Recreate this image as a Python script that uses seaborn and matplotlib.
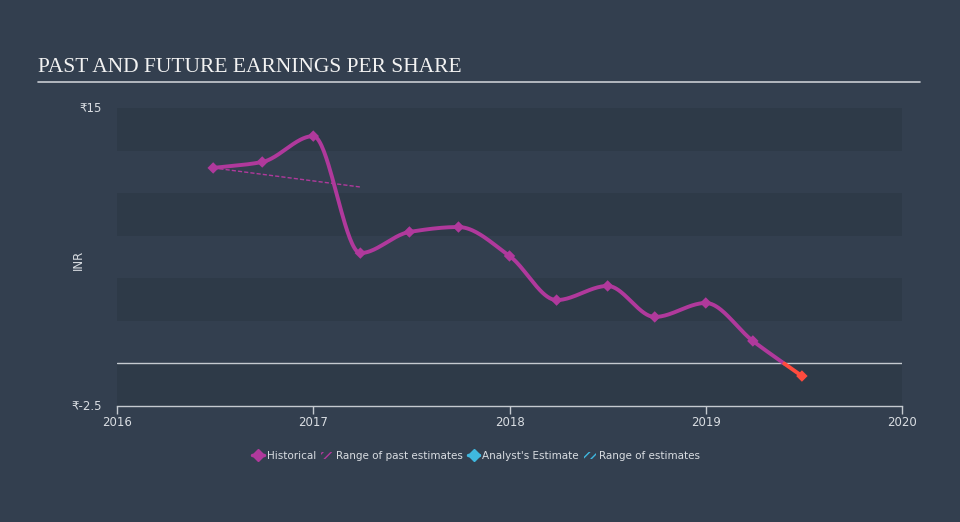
import numpy as np
import pandas as pd
import matplotlib
matplotlib.use("Agg")
import matplotlib.pyplot as plt
from matplotlib.lines import Line2D
from matplotlib.patches import Patch
import seaborn as sns

# ---- data ----
hist_x = [2016.49, 2016.74, 2017.0, 2017.24, 2017.49, 2017.74, 2018.0,
          2018.24, 2018.5, 2018.74, 2019.0, 2019.24, 2019.49]
hist_y = [11.48, 11.83, 13.35, 6.48, 7.72, 8.01, 6.31,
          3.72, 4.55, 2.73, 3.55, 1.32, -0.74]
past_est_x = [2016.49, 2017.24]
past_est_y = [11.48, 10.36]
x_ticks = [2016, 2017, 2018, 2019, 2020]
y_tick_vals = [-2.5, 15]
y_tick_labels = ["₹-2.5", "₹15"]

BG = "#333f4f"
DARK = "#2e3a48"
MAG = "#b0399c"
RED = "#ff4b3e"
BLUE = "#3fb8e0"
TXT = "#d9dde2"


def monotone(x, y, n=40):
    x = np.asarray(x, float); y = np.asarray(y, float)
    h = np.diff(x); d = np.diff(y) / h
    m = np.zeros_like(y)
    m[0], m[-1] = d[0], d[-1]
    for i in range(1, len(y) - 1):
        if d[i - 1] * d[i] <= 0:
            m[i] = 0
        else:
            w1 = 2 * h[i] + h[i - 1]; w2 = h[i] + 2 * h[i - 1]
            m[i] = (w1 + w2) / (w1 / d[i - 1] + w2 / d[i])
    xs, ys = [], []
    for i in range(len(h)):
        t = np.linspace(0, 1, n, endpoint=(i == len(h) - 1))
        h00 = 2 * t**3 - 3 * t**2 + 1; h10 = t**3 - 2 * t**2 + t
        h01 = -2 * t**3 + 3 * t**2; h11 = t**3 - t**2
        xs.append(x[i] + t * h[i])
        ys.append(h00 * y[i] + h10 * h[i] * m[i] + h01 * y[i + 1] + h11 * h[i] * m[i + 1])
    return np.concatenate(xs), np.concatenate(ys)


sns.set_theme(style="dark", rc={"axes.facecolor": BG, "figure.facecolor": BG})
plt.rcParams["font.family"] = ["DejaVu Sans"]

fig = plt.figure(figsize=(9.6, 5.22), dpi=100)
ax = fig.add_axes([117 / 960, 1 - 406 / 522, (902 - 117) / 960, (406 - 108) / 522])
ax.set_facecolor(BG)

# bands
for lo in [12.5, 7.5, 2.5, -2.5]:
    ax.axhspan(lo, lo + 2.5, color=DARK, lw=0, zorder=0)
ax.axhline(0, color="#c5cad0", lw=1.0, zorder=1)

sx, sy = monotone(hist_x, hist_y)
cross = np.where((sy[:-1] > 0) & (sy[1:] <= 0))[0]
ci = cross[-1] + 1 if len(cross) else len(sx)
df_pos = pd.DataFrame({"x": sx[:ci + 1], "y": sy[:ci + 1]})
df_neg = pd.DataFrame({"x": sx[ci:], "y": sy[ci:]})
sns.lineplot(data=df_pos, x="x", y="y", ax=ax, color=MAG, lw=2.8, sort=False, zorder=3)
sns.lineplot(data=df_neg, x="x", y="y", ax=ax, color=RED, lw=2.8, sort=False, zorder=3)

ax.plot(past_est_x, past_est_y, color=MAG, lw=1, ls=(0, (3, 1.5)), zorder=2)

pts = pd.DataFrame({"x": hist_x, "y": hist_y})
cols = [MAG if v >= 0 else RED for v in hist_y]
ax.scatter(pts["x"], pts["y"], marker="D", s=34, c=cols, lw=0, zorder=4)

ax.set_xlim(2016, 2020)
ax.set_ylim(-2.5, 15)
ax.set_xticks(x_ticks)
ax.set_xticklabels([str(t) for t in x_ticks], color=TXT, fontsize=8.5)
ax.set_yticks(y_tick_vals)
ax.set_yticklabels(y_tick_labels, color=TXT, fontsize=8.5)
ax.tick_params(axis="x", length=6, width=1, color="#c5cad0", pad=1, bottom=True)
ax.tick_params(axis="y", length=0, pad=11)
for lab in ax.get_yticklabels():
    lab.set_verticalalignment("center")
ax.grid(False)
for s in ["top", "right", "left"]:
    ax.spines[s].set_visible(False)
ax.spines["bottom"].set_color("#c5cad0")
ax.spines["bottom"].set_linewidth(1)
ax.set_xlabel("")
ax.set_ylabel("")
fig.text(78 / 960, 1 - 260 / 522, "INR", color=TXT, fontsize=8.5,
         rotation=90, ha="center", va="center")

# title
fig.text(38 / 960, 1 - 67 / 522, "PAST AND FUTURE EARNINGS PER SHARE",
         family="Liberation Serif", fontsize=15.5, color="#f2f2f2", va="center")
fig.add_artist(Line2D([38 / 960, 920 / 960], [1 - 82 / 522] * 2, color="#c8ccd2", lw=1.2))

handles = [
    Line2D([], [], color=MAG, marker="D", lw=2.5, markersize=6),
    Patch(facecolor="none", edgecolor=MAG, hatch="////", lw=0),
    Line2D([], [], color=BLUE, marker="D", lw=2.5, markersize=6),
    Patch(facecolor="none", edgecolor=BLUE, hatch="////", lw=0),
]
labels = ["Historical", "Range of past estimates", "Analyst's Estimate", "Range of estimates"]
leg = fig.legend(handles, labels, loc="center", bbox_to_anchor=(476 / 960, 1 - 456 / 522),
                 ncol=4, frameon=False, fontsize=7.5, labelcolor=TXT,
                 handlelength=1.1, handletextpad=0.3, columnspacing=0.5)
leg.legend_handles[1].set_width(8)

fig.savefig("out.png", dpi=100, facecolor=BG)
